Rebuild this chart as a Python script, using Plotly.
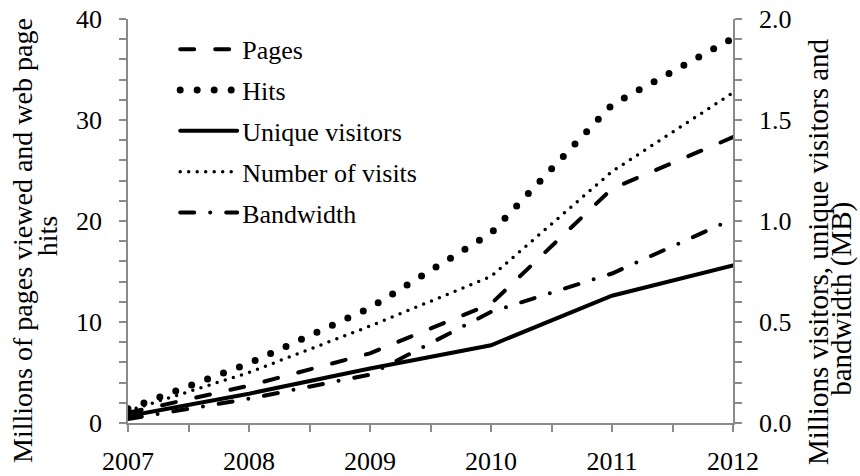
import plotly.graph_objects as go

years = [2007, 2008, 2009, 2010, 2011, 2012]

# Left axis (millions)
pages = [1.0, 3.7, 6.9, 11.8, 23.2, 28.3]
hits = [1.4, 5.9, 11.4, 18.8, 31.5, 38.1]

# Right axis (millions / MB)
visits = [0.06, 0.25, 0.48, 0.725, 1.245, 1.635]
unique_visitors = [0.035, 0.145, 0.27, 0.385, 0.63, 0.78]
bandwidth = [0.02, 0.12, 0.24, 0.55, 0.74, 1.01]

left_ticks = [0, 10, 20, 30, 40]
right_ticks = [0.0, 0.5, 1.0, 1.5, 2.0]

left_title = ["Millions of pages viewed and web page", "hits"]
right_title = ["Millions visitors, unique visitors and", "bandwidth (MB)"]

FONT = "Liberation Serif"
AX = "#8a8a8a"

fig = go.Figure()
fig.add_trace(go.Scatter(x=years, y=pages, name="Pages", mode="lines", legendgroup="a",
                         line=dict(color="black", width=4, dash="14px,21px")))
fig.add_trace(go.Scatter(x=years, y=hits, name="Hits", mode="lines", legendgroup="b",
                         line=dict(color="black", width=7, dash="0px,17px")))
fig.add_trace(go.Scatter(x=years, y=unique_visitors, name="Unique visitors", mode="lines", legendgroup="c",
                         yaxis="y2", line=dict(color="black", width=4)))
fig.add_trace(go.Scatter(x=years, y=visits, name="Number of visits", mode="lines", legendgroup="d",
                         yaxis="y2", line=dict(color="black", width=3.5, dash="0px,8.5px")))
fig.add_trace(go.Scatter(x=years, y=bandwidth, name="Bandwidth", mode="lines", legendgroup="e",
                         yaxis="y2", line=dict(color="black", width=4, dash="14px,16px,0px,16px")))

axis_common = dict(showline=True, linecolor=AX, linewidth=1.5, ticks="outside", ticklen=7,
                   tickcolor=AX, tickwidth=1.5, showgrid=False, zeroline=False, automargin=False,
                   tickfont=dict(family=FONT, size=26, color="black"))

title_font = dict(family=FONT, size=28, color="black")
title_font_r = dict(family=FONT, size=29, color="black")
annotations = [
    dict(text=left_title[0], xref="paper", yref="paper", x=-0.1736, y=0.453, textangle=-90,
         xanchor="center", yanchor="middle", showarrow=False, font=title_font),
    dict(text=left_title[1], xref="paper", yref="paper", x=-0.134, y=0.462, textangle=-90,
         xanchor="center", yanchor="middle", showarrow=False, font=title_font),
    dict(text=right_title[0], xref="paper", yref="paper", x=1.1405, y=0.423, textangle=-90,
         xanchor="center", yanchor="middle", showarrow=False, font=title_font_r),
    dict(text=right_title[1], xref="paper", yref="paper", x=1.1800, y=0.307, textangle=-90,
         xanchor="center", yanchor="middle", showarrow=False, font=title_font_r),
]

fig.update_layout(
    width=860, height=476,
    margin=dict(l=128, r=127, t=19, b=53),
    paper_bgcolor="white", plot_bgcolor="white",
    font=dict(family=FONT, size=26, color="black"),
    showlegend=True,
    legend=dict(x=0.078, y=0.983, xanchor="left", yanchor="top", bgcolor="rgba(0,0,0,0)",
                font=dict(family=FONT, size=26, color="black"), itemwidth=57, tracegroupgap=4),
    xaxis=dict(range=[2007, 2012], tickvals=years, ticktext=[str(y) for y in years],
               minor=dict(dtick=0.5, ticks="outside", ticklen=7, tickcolor=AX, tickwidth=1.5),
               ticklabelstandoff=7, **axis_common),
    yaxis=dict(range=[0, 40], tickvals=left_ticks,
               minor=dict(dtick=2, ticks="outside", ticklen=7, tickcolor=AX, tickwidth=1.5),
               ticklabelstandoff=12, **axis_common),
    yaxis2=dict(range=[0, 2], tickvals=right_ticks, tickformat=".1f", overlaying="y", side="right",
                minor=dict(dtick=0.1, ticks="outside", ticklen=7, tickcolor=AX, tickwidth=1.5),
                ticklabelstandoff=12, **axis_common),
    annotations=annotations,
)

post = ("var s=document.createElement('style');"
        "s.innerHTML='.js-line{stroke-linecap:round !important;} html,body{margin:0 !important;padding:0 !important;}';"
        "document.head.appendChild(s);")
fig.write_html("out.html", post_script=post, config={"displayModeBar": False})
